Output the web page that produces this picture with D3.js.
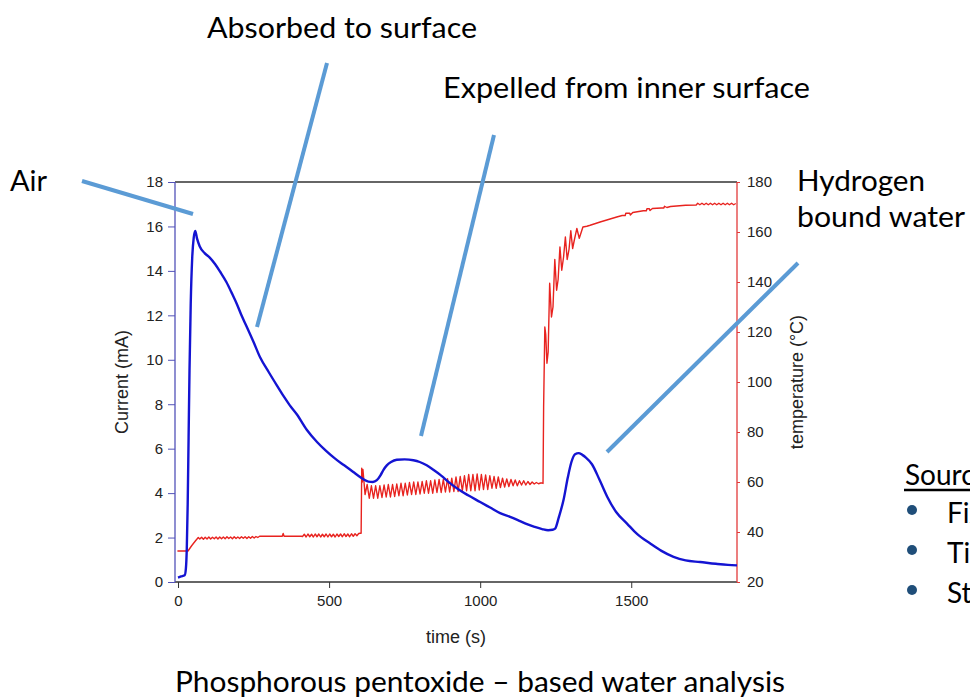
<!DOCTYPE html>
<html>
<head>
<meta charset="utf-8">
<script src="https://cdn.jsdelivr.net/npm/d3@7"></script>
<style>
  html, body { margin: 0; padding: 0; background: #fff; overflow: hidden; }
  svg { display: block; }
</style>
</head>
<body>
<div id="chart"></div>
<script>
// ---- data ----
var timeTicks = [0, 500, 1000, 1500];
var currentTicks = [0, 2, 4, 6, 8, 10, 12, 14, 16, 18];
var tempTicks = [20, 40, 60, 80, 100, 120, 140, 160, 180];

// current (mA) vs time (s)
var currentPts = [
  [0,0.2],[10,0.25],[22,0.3],[26,0.6],[29,1.5],[32,3.5],[35,6.5],[38,9.5],[42,12.5],[47,14.6],
  [52,15.5],[57,15.8],[63,15.45],[72,15.1],[88,14.8],[105,14.6],[123,14.3],[140,13.95],[160,13.5],
  [178,13.0],[195,12.5],[210,12.0],[227,11.5],[250,10.8],[272,10.1],[300,9.45],[327,8.85],[350,8.35],
  [370,7.95],[393,7.55],[426,6.85],[460,6.3],[490,5.9],[520,5.55],[550,5.25],[580,4.95],[600,4.75],
  [614,4.62],[630,4.52],[645,4.5],[658,4.58],[670,4.8],[680,5.05],[691,5.25],[705,5.4],[724,5.5],
  [750,5.52],[779,5.48],[800,5.4],[823,5.25],[845,5.05],[870,4.8],[900,4.45],[930,4.15],[960,3.9],
  [1000,3.6],[1033,3.35],[1066,3.1],[1099,2.93],[1130,2.75],[1155,2.6],[1180,2.48],[1205,2.38],
  [1225,2.33],[1240,2.35],[1248,2.4],[1260,2.9],[1276,3.7],[1290,4.7],[1302,5.4],[1314,5.75],
  [1326,5.8],[1338,5.72],[1350,5.6],[1370,5.3],[1395,4.6],[1420,3.85],[1450,3.15],[1486,2.63],
  [1520,2.15],[1563,1.73],[1600,1.4],[1640,1.13],[1680,0.97],[1728,0.9],[1780,0.82],[1820,0.77],
  [1850,0.75]
];

// temperature (°C) vs time (s), in pieces
var tempStartPts = [[-2,32.4],[33,32.4],[45,34.5],[58,36.5],[67,37.8]];
var tempRipple1 = { start: 72, step: 6, values: [
  37.2,37.9,37.1,37.9,37.2,38.0,37.2,37.9,37.3,38.0,37.2,38.0,37.3,38.0,37.3,38.1,37.4,
  38.0,37.3,38.1,37.4,38.0,37.4,38.1,37.5,38.1,37.4,38.1,37.5,38.2,37.6,38.2,37.8] };
var tempFlatPts = [[270,38.3],[345,38.3],[348,39.4],[351,38.3],[408,38.3]];
var tempRipple2 = { start: 412, step: 6, values: [
  38.2,39.1,38.0,39.2,38.1,39.1,38.0,39.2,38.1,39.2,38.0,39.1,38.1,39.2,38.0,39.2,
  38.1,39.1,38.0,39.2,38.2,39.2,38.1,39.3,38.2,39.2,38.1,39.3,38.3,39.3,38.5,39.4] };
var tempJumpPts = [[603,39.5],[606,39.5],[608,65.5],[610,60]];
var tempRipple3 = { start: 612, step: 7, values: [
  65,55,59,53.5,58.5,53.5,58.5,53.5,58.5,53.8,58.8,54,59,54,59,54.2,59.2,54.5,59.5,54.5,
  59.5,54.8,59.8,55,60,55,60,55.2,60.2,55.5,60.5,55.5,60.5,55.5,60.8,55.8,61,55.8,61,56,
  61.3,56,61.5,56.2,62,56.2,62.2,56.5,62.5,56.5,63,56.5,63,56.5,63.2,56.8,63,57,62.8,57,
  62.5,57.5,62.2,57.5,62,57.8,61.5,58,61.2,58.2,61,58.5,60.8,58.5,60.5,58.8,60.5,58.8,60.2,59,
  60,59.2,59.8,59.3,59.6] };
var tempHeatPts = [
  [1205,59.6],[1208,59.4],[1210,90],[1214,122],[1217,119],[1221,107.5],[1225,112],[1230,139.5],
  [1236,126],[1241,130],[1247,149],[1253,136.7],[1258,141],[1264,154],[1270,144.7],[1276,150],
  [1282,158],[1288,149],[1294,153],[1300,160.5],[1306,153.4],[1312,157],[1320,161.4],[1328,157.5],
  [1340,162],[1353,162.3],[1364,162.7],[1397,164],[1430,165.2],[1452,166],[1470,166.6],[1480,166.6],
  [1482,167.5],[1495,167.5],[1497,166.8],[1505,167.8],[1540,168.5],[1550,168.5],[1552,169.3],
  [1560,169.3],[1562,168.6],[1570,169.4],[1600,169.6],[1608,169.6],[1610,170.3],[1618,169.8],
  [1630,170.2],[1680,170.7],[1715,170.8]
];
var tempRipple4 = { start: 1720, step: 7, values: [
  171.5,170.9,171.5,170.9,171.5,170.9,171.5,170.9,171.5,170.9,171.5,170.9,171.5,170.9,171.5,
  170.9,171.5,170.9,171.4] };

// callouts
var callouts = [
  { text: "Air", x: 10, y: 191, w: 37, line: [82, 181, 193, 214] },
  { text: "Absorbed to surface", x: 207, y: 38, w: 270, line: [327, 63, 257, 327] },
  { text: "Expelled from inner surface", x: 443, y: 98, w: 367, line: [494, 135, 421, 436] },
  { text: "Hydrogen", x: 797, y: 191, w: 128, line: [798, 263, 607, 452] },
  { text: "bound water", x: 797, y: 227, w: 168, line: null }
];
var sourceItems = ["Fixed", "Timed", "Steps"];

// ---- layout ----
var W = 970, H = 697;
var plot = { left: 175, right: 737, top: 182, bottom: 582 };

var svg = d3.select("#chart").append("svg")
  .attr("width", W)
  .attr("height", H)
  .style("font-family", "'Liberation Sans', Arial, sans-serif");

var x = d3.scaleLinear().domain([-10, 1850]).range([plot.left, plot.right]);
var yCur = d3.scaleLinear().domain([0, 18]).range([plot.bottom, plot.top]);
var yTemp = d3.scaleLinear().domain([20, 180]).range([plot.bottom, plot.top]);

// stitch temperature pieces together
function ripple(r) {
  return r.values.map(function(v, i) { return [r.start + i * r.step, v]; });
}
var tempPts = [].concat(tempStartPts, ripple(tempRipple1), tempFlatPts, ripple(tempRipple2),
  tempJumpPts, ripple(tempRipple3), tempHeatPts, ripple(tempRipple4));

// frame: top line
svg.append("line")
  .attr("x1", plot.left).attr("x2", plot.right)
  .attr("y1", plot.top).attr("y2", plot.top)
  .attr("stroke", "#333").attr("stroke-width", 1.3);

// axes
var fmt = d3.format("d");
var axisB = svg.append("g")
  .attr("transform", "translate(0," + plot.bottom + ")")
  .call(d3.axisBottom(x).tickValues(timeTicks).tickFormat(fmt).tickSize(6).tickPadding(7));
var axisL = svg.append("g")
  .attr("transform", "translate(" + plot.left + ",0)")
  .call(d3.axisLeft(yCur).tickValues(currentTicks).tickFormat(fmt).tickSize(7).tickPadding(5));
var axisR = svg.append("g")
  .attr("transform", "translate(" + plot.right + ",0)")
  .call(d3.axisRight(yTemp).tickValues(tempTicks).tickFormat(fmt).tickSize(3).tickPadding(7));

[axisB, axisL, axisR].forEach(function(a) {
  a.selectAll("text").style("font-size", "15px").attr("fill", "#222")
    .style("font-family", "'Liberation Sans', Arial, sans-serif");
  a.select(".domain").attr("stroke-width", 1.3);
});
axisB.selectAll("line, .domain").attr("stroke", "#333");
axisB.select(".domain").attr("d", "M" + plot.left + ",0H" + plot.right);
axisL.selectAll("line, .domain").attr("stroke", "#5252b8");
axisL.select(".domain").attr("d", "M0," + plot.top + "V" + plot.bottom);
axisR.selectAll("line, .domain").attr("stroke", "#e23a3a");
axisR.select(".domain").attr("d", "M0," + plot.top + "V" + plot.bottom);

// axis titles
svg.append("text")
  .attr("x", (plot.left + plot.right) / 2).attr("y", 643)
  .attr("text-anchor", "middle").style("font-size", "18px").attr("fill", "#222")
  .text("time (s)");
svg.append("text")
  .attr("transform", "translate(128," + (plot.top + plot.bottom) / 2 + ") rotate(-90)")
  .attr("text-anchor", "middle").style("font-size", "18px").attr("fill", "#222")
  .text("Current (mA)");
svg.append("text")
  .attr("transform", "translate(803," + (plot.top + plot.bottom) / 2 + ") rotate(-90)")
  .attr("text-anchor", "middle").style("font-size", "18px").attr("fill", "#222")
  .text("temperature (°C)");

// series
var tempLine = d3.line()
  .x(function(d) { return x(d[0]); })
  .y(function(d) { return yTemp(d[1]); });
svg.append("path")
  .datum(tempPts)
  .attr("d", tempLine)
  .attr("fill", "none")
  .attr("stroke", "#e8231f")
  .attr("stroke-width", 1.4)
  .attr("stroke-linejoin", "round");

var curLine = d3.line()
  .x(function(d) { return x(d[0]); })
  .y(function(d) { return yCur(d[1]); })
  .curve(d3.curveMonotoneX);
svg.append("path")
  .datum(currentPts)
  .attr("d", curLine)
  .attr("fill", "none")
  .attr("stroke", "#1414d2")
  .attr("stroke-width", 2.4)
  .attr("stroke-linejoin", "round");

// callouts
var calloutFont = "Lato, 'Open Sans', sans-serif";
callouts.forEach(function(c) {
  if (c.line) {
    svg.append("line")
      .attr("x1", c.line[0]).attr("y1", c.line[1])
      .attr("x2", c.line[2]).attr("y2", c.line[3])
      .attr("stroke", "#5b9bd5").attr("stroke-width", 4);
  }
  svg.append("text")
    .attr("x", c.x).attr("y", c.y)
    .attr("textLength", c.w).attr("lengthAdjust", "spacingAndGlyphs")
    .style("font-family", calloutFont).style("font-size", "29px").attr("fill", "#000")
    .text(c.text);
});

// "Sources" block, cut off by the right edge as in the original slide
svg.append("text")
  .attr("x", 905).attr("y", 485)
  .style("font-family", calloutFont).style("font-size", "28px").attr("fill", "#000")
  .text("Sources");
svg.append("line")
  .attr("x1", 904).attr("x2", W).attr("y1", 490).attr("y2", 490)
  .attr("stroke", "#000").attr("stroke-width", 2.5);
sourceItems.forEach(function(s, i) {
  svg.append("circle")
    .attr("cx", 912).attr("cy", 510 + i * 40).attr("r", 5)
    .attr("fill", "#1f4e79");
  svg.append("text")
    .attr("x", 947).attr("y", 523 + i * 40)
    .style("font-family", calloutFont).style("font-size", "28px").attr("fill", "#000")
    .text(s);
});

// bottom title
svg.append("text")
  .attr("x", 175).attr("y", 692)
  .attr("textLength", 610).attr("lengthAdjust", "spacingAndGlyphs")
  .style("font-family", calloutFont).style("font-size", "29px").attr("fill", "#000")
  .text("Phosphorous pentoxide – based water analysis");
</script>
</body>
</html>
